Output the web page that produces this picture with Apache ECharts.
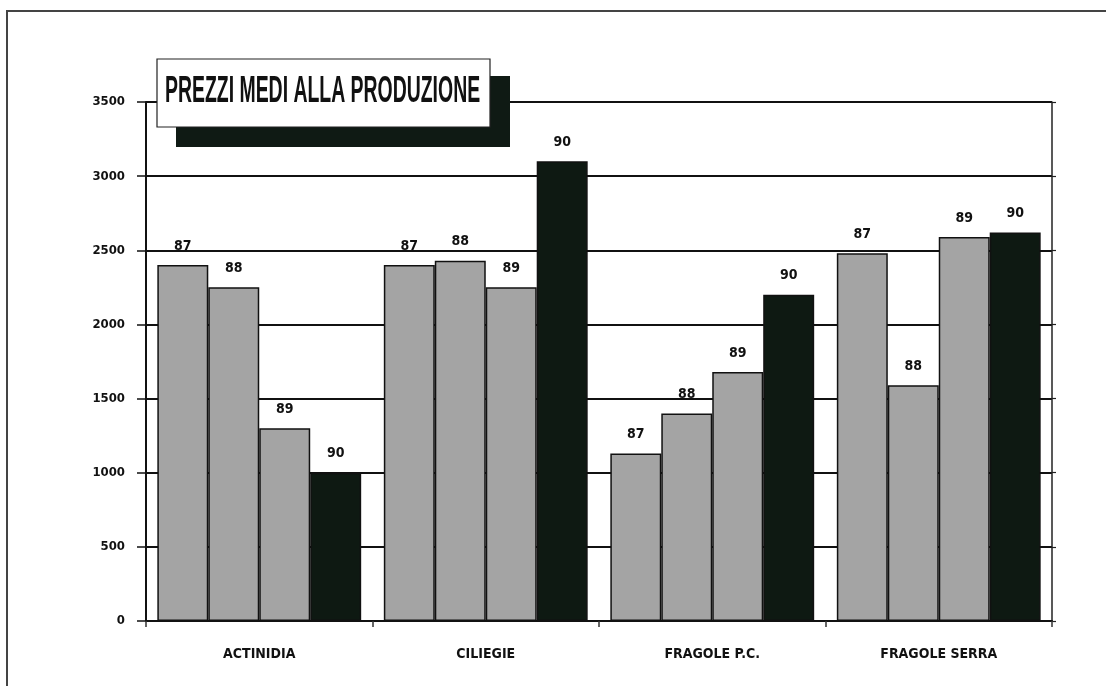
<!DOCTYPE html>
<html>
<head>
<meta charset="utf-8">
<script src="https://cdn.jsdelivr.net/npm/echarts@6/dist/echarts.min.js"></script>
<style>
html,body{margin:0;padding:0;background:#fff;}
#c{width:1106px;height:686px;}
</style>
</head>
<body>
<div id="c"></div>
<script>
var categories = ['ACTINIDIA', 'CILIEGIE', 'FRAGOLE P.C.', 'FRAGOLE SERRA'];
var seriesNames = ['87', '88', '89', '90'];
var values87 = [2400, 2400, 1130, 2480];
var values88 = [2250, 2430, 1400, 1590];
var values89 = [1300, 2250, 1680, 2590];
var values90 = [1000, 3100, 2200, 2620];
var yTicks = [0, 500, 1000, 1500, 2000, 2500, 3000, 3500];
var titleText = 'PREZZI MEDI ALLA PRODUZIONE';

var NARROW = "'DejaVu Sans', sans-serif";
var CW = 'bold condensed';
var allValues = [values87, values88, values89, values90];
var colors = ['#a4a4a4', '#a4a4a4', '#a4a4a4', '#0e1912'];

var chart = echarts.init(document.getElementById('c'), null, {renderer: 'canvas'});

var series = seriesNames.map(function (name, i) {
  return {
    name: name,
    type: 'bar',
    data: allValues[i],
    barGap: '0%',
    barCategoryGap: '10%',
    itemStyle: {
      color: colors[i],
      borderColor: '#111',
      borderWidth: 1.5
    },
    label: {
      show: true,
      position: 'top',
      distance: 12,
      formatter: name,
      fontFamily: NARROW,
      fontWeight: CW,
      fontSize: 14,
      color: '#111'
    },
    z: 3
  };
});

var option = {
  backgroundColor: '#ffffff',
  animation: false,
  grid: {left: 146, right: 54, top: 102, bottom: 65, containLabel: false},
  xAxis: {
    type: 'category',
    data: categories,
    axisLine: {lineStyle: {color: '#111', width: 2}},
    axisTick: {show: true, length: 6, lineStyle: {color: '#333', width: 1.5}},
    axisLabel: {
      margin: 26,
      fontFamily: NARROW,
      fontWeight: CW,
      fontSize: 14,
      color: '#111'
    }
  },
  yAxis: [{
    type: 'value',
    min: yTicks[0],
    max: yTicks[yTicks.length - 1],
    interval: yTicks[1] - yTicks[0],
    axisLine: {show: true, lineStyle: {color: '#111', width: 2}},
    axisTick: {show: true, inside: false, length: 9, lineStyle: {color: '#111', width: 1.5}},
    axisLabel: {
      margin: 21,
      formatter: function (v) { return String(v); },
      fontFamily: NARROW,
      fontWeight: CW,
      fontSize: 13,
      color: '#111'
    },
    splitLine: {show: true, lineStyle: {color: '#111', width: 1.8}}
  }, {
    type: 'value',
    position: 'right',
    min: yTicks[0],
    max: yTicks[yTicks.length - 1],
    interval: yTicks[1] - yTicks[0],
    axisLine: {show: true, lineStyle: {color: '#222', width: 1.5}},
    axisTick: {show: true, inside: false, length: 4, lineStyle: {color: '#222', width: 1.2}},
    axisLabel: {show: false},
    splitLine: {show: false}
  }],
  series: series,
  graphic: [
    {
      type: 'polyline',
      shape: {points: [[7, 686], [7, 11], [1106, 11]]},
      style: {stroke: '#444', lineWidth: 2, fill: null},
      z: 10
    },
    {
      type: 'rect',
      shape: {x: 176, y: 76, width: 334, height: 71},
      style: {fill: '#0f1a14'},
      z: 10
    },
    {
      type: 'rect',
      shape: {x: 157, y: 59, width: 333, height: 68},
      style: {fill: '#ffffff', stroke: '#222', lineWidth: 1.2},
      z: 11
    },
    {
      type: 'text',
      x: 165,
      y: 73,
      scaleX: 0.525,
      style: {
        text: titleText,
        fontFamily: "'Liberation Sans', Arial, sans-serif",
        fontWeight: 'bold',
        fontSize: 37,
        fill: '#111',
        textVerticalAlign: 'top'
      },
      z: 12
    }
  ]
};

chart.setOption(option);
</script>
</body>
</html>
